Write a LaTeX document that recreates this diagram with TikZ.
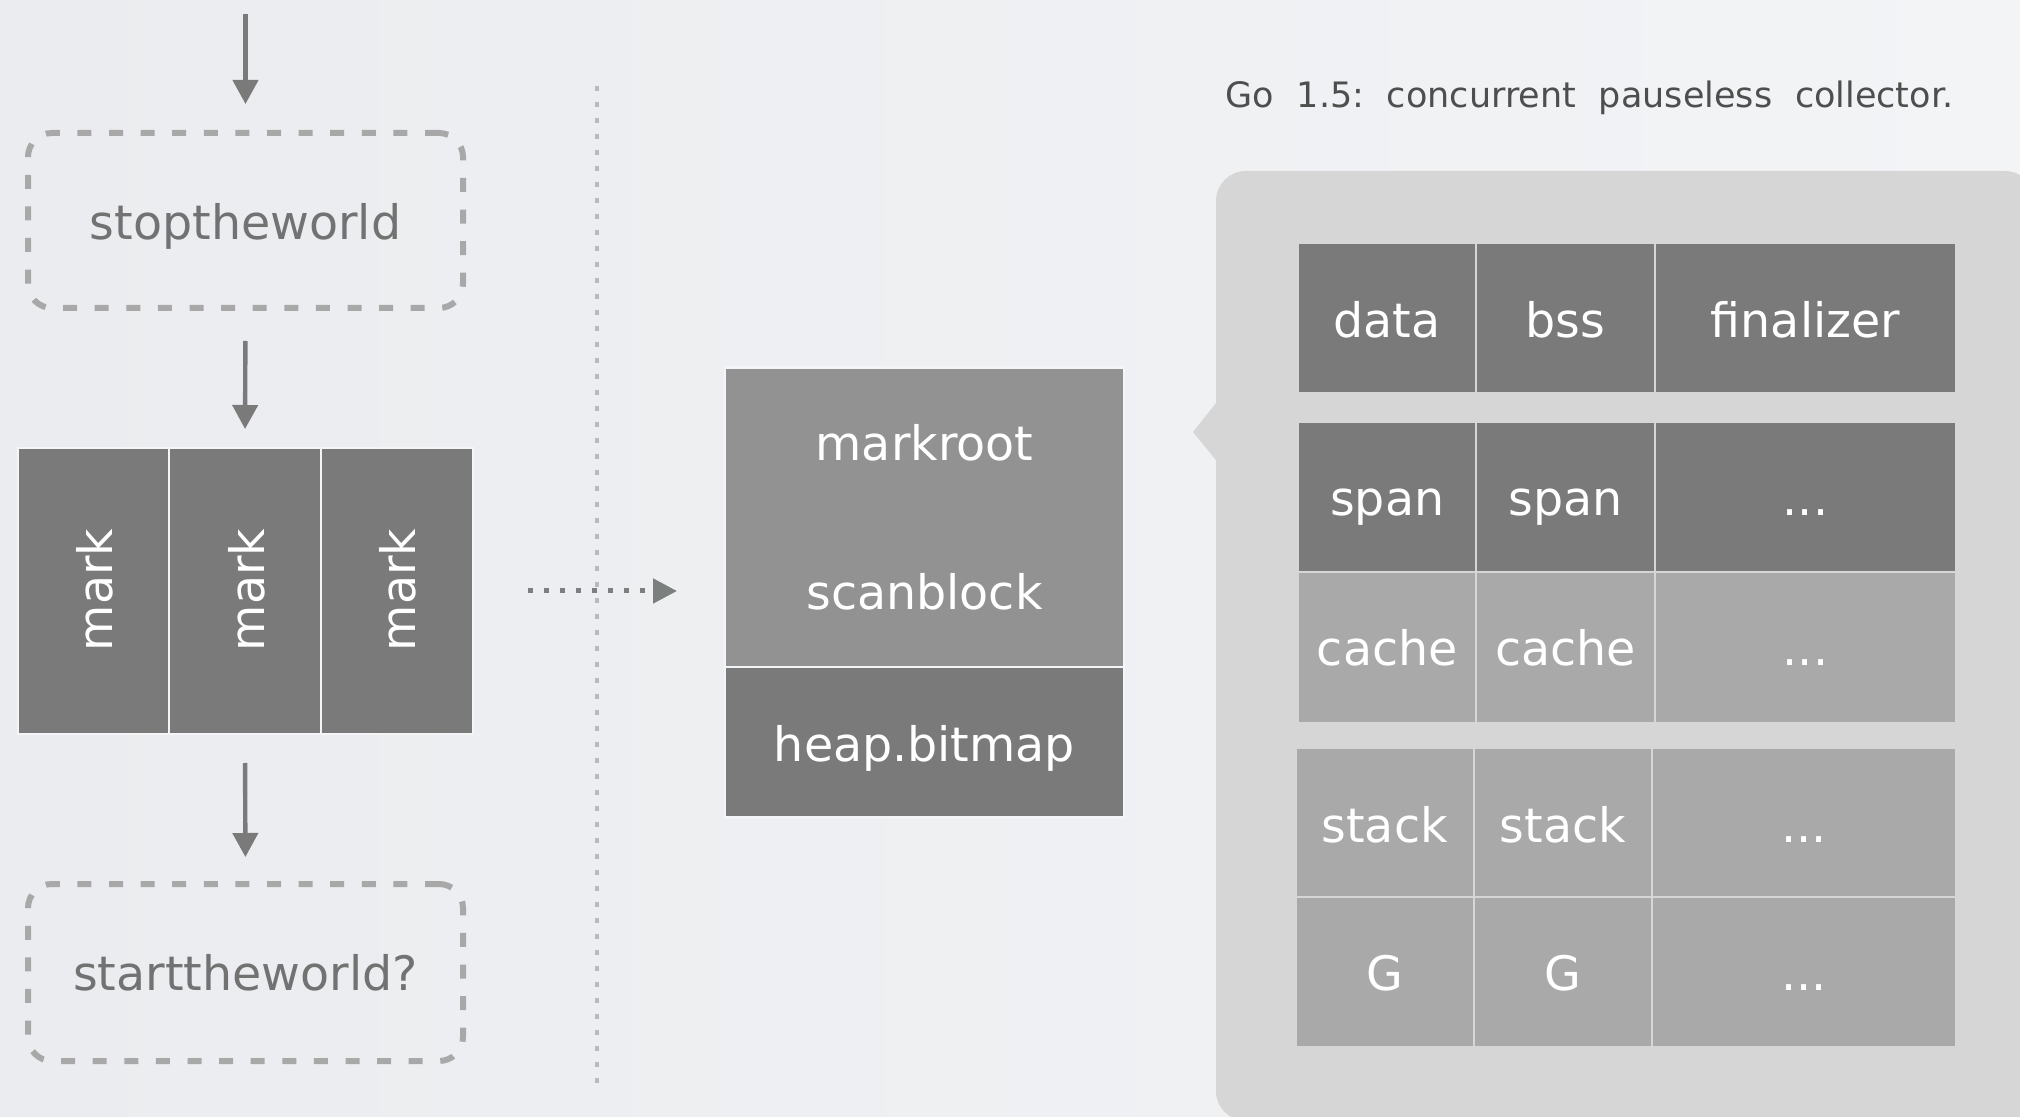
\documentclass[tikz,border=0pt]{standalone}
\usepackage{fontspec}
\setmainfont{DejaVu Sans}
\usetikzlibrary{arrows.meta,fit}
\definecolor{bgL}{RGB}{234,236,239}
\definecolor{bgR}{RGB}{243,244,246}
\definecolor{darkcell}{RGB}{122,122,122}
\definecolor{midcell}{RGB}{146,146,146}
\definecolor{lightcell}{RGB}{169,169,169}
\definecolor{panelc}{RGB}{214,214,214}
\definecolor{arrowc}{RGB}{122,122,122}
\definecolor{dashc}{RGB}{168,168,168}
\definecolor{boxtext}{RGB}{114,114,114}
\definecolor{titlec}{RGB}{78,78,78}
\definecolor{vdotc}{RGB}{186,186,186}
\definecolor{hdotc}{RGB}{123,128,127}
\definecolor{sepc}{RGB}{244,245,246}
\newcommand\gapw{\hspace{11.4pt}}
\tikzset{
  lbl/.style={font=\fontsize{23.75pt}{28pt}\selectfont, inner sep=0pt},
  celltext/.style={lbl, text=white, anchor=base},
  boxtextst/.style={lbl, text=boxtext, anchor=base},
  cellbase/.style={rectangle, inner sep=0pt, outer sep=0pt, line width=1pt},
  darkA/.style={cellbase, fill=darkcell, draw=panelc},
  lightA/.style={cellbase, fill=lightcell, draw=panelc},
  markcell/.style={cellbase, fill=darkcell, draw=sepc},
  upcell/.style={cellbase, fill=midcell, draw=sepc, line width=1.4pt},
  heapcell/.style={cellbase, fill=darkcell, draw=sepc, line width=1.4pt},
  dashbox/.style={rectangle, inner sep=0pt, outer sep=0pt, draw=dashc, line width=3pt,
    dash pattern=on 7pt off 8.8pt, rounded corners=12pt},
  arr/.style={draw=arrowc, line width=2.2pt, -{Triangle[length=12pt,width=12.5pt]}},
  vdot/.style={draw=vdotc, line width=2.4pt, dash pattern=on 2.3pt off 5.7pt},
  hdot/.style={draw=hdotc, line width=2.5pt, dash pattern=on 2.5pt off 5.5pt,
    -{Triangle[length=12pt,width=12pt]}},
}
\begin{document}
\begin{tikzpicture}[x=0.5pt,y=-0.5pt]
\useasboundingbox (0,0) rectangle (2020,1117);
\clip (0,0) rectangle (2020,1117);
\shade[left color=bgL, right color=bgR] (0,0) rectangle (2020,1117);

% left column
\node[dashbox, fit={(28,133) (463,308)}] (stop) {};
\node[boxtextst] (stopt) at ([yshift=-9.75pt]stop.center) {stoptheworld};
\node[markcell, fit={(18,448) (169,734)}] (m1) {};
\node[markcell, fit={(169,448) (321,734)}] (m2) {};
\node[markcell, fit={(321,448) (472.5,734)}] (m3) {};
\node[lbl, text=white, rotate=90, anchor=base] (m1t) at ([xshift=9.5pt,yshift=0.5pt]m1.center) {mark};
\node[lbl, text=white, rotate=90, anchor=base] (m2t) at ([xshift=9.5pt,yshift=0.5pt]m2.center) {mark};
\node[lbl, text=white, rotate=90, anchor=base] (m3t) at ([xshift=9.5pt,yshift=0.5pt]m3.center) {mark};
\node[dashbox, fit={(28,884) (463,1061)}] (start) {};
\node[boxtextst] (startt) at ([yshift=-8.75pt]start.center) {starttheworld?};

\coordinate (top0) at (245.5,14);
\draw[arr, shorten >=14.5pt] (top0) -- (stop.north);
\draw[arr, shorten <=16.5pt, shorten >=9.5pt] (stop.south) -- (m2.north);
\draw[arr, shorten <=14.5pt, shorten >=13.5pt] (m2.south) -- (start.north);

% separator
\coordinate (sepA) at (597,86);
\coordinate (sepB) at (597,1093);
\draw[vdot] (sepA) -- (sepB);

% centre block
\node[upcell, fit={(725,367.5) (1124,667)}] (cup) {};
\node[heapcell, fit={(725,667) (1124,817.5)}] (heap) {};
\node[celltext] (mr) at (924.5,461) {markroot};
\node[celltext] (sb) at (924.5,610) {scanblock};
\node[celltext] (hb) at ([yshift=-9.5pt]heap.center) {heap.bitmap};

\draw[hdot, shorten <=27.8pt, shorten >=24pt] (m3.east) -- (m3.east -| cup.west);

% title
\node[anchor=base west, inner sep=0pt, text=titlec, font=\fontsize{17.5pt}{21pt}\selectfont] (title) at (1225,107.8)
  {Go\gapw 1.5:\gapw concurrent\gapw pauseless\gapw collector.};

% panel
\fill[panelc, rounded corners=15pt] (1216,171) -- (2035,171) -- (2035,1121) -- (1216,1121) -- cycle;
\fill[panelc] (1220,398) -- (1193,432) -- (1220,465) -- cycle;

% table
\node[darkA, fit={(1298.4,243) (1476,393)}] (c11) {};
\node[darkA, fit={(1476,243) (1655,393)}] (c12) {};
\node[darkA, fit={(1655,243) (1956,393)}] (c13) {};
\node[darkA, fit={(1298.4,422) (1476,572)}] (c21) {};
\node[darkA, fit={(1476,422) (1655,572)}] (c22) {};
\node[darkA, fit={(1655,422) (1956,572)}] (c23) {};
\node[lightA, fit={(1298.4,572) (1476,722.6)}] (c31) {};
\node[lightA, fit={(1476,572) (1655,722.6)}] (c32) {};
\node[lightA, fit={(1655,572) (1956,722.6)}] (c33) {};
\node[lightA, fit={(1295.7,748) (1473.5,897.4)}] (c41) {};
\node[lightA, fit={(1473.5,748) (1652.4,897.4)}] (c42) {};
\node[lightA, fit={(1652.4,748) (1956,897.4)}] (c43) {};
\node[lightA, fit={(1295.7,897.4) (1473.5,1046.8)}] (c51) {};
\node[lightA, fit={(1473.5,897.4) (1652.4,1046.8)}] (c52) {};
\node[lightA, fit={(1652.4,897.4) (1956,1046.8)}] (c53) {};

\node[celltext] (t11) at ([yshift=-9.75pt]c11.center) {data};
\node[celltext] (t12) at ([yshift=-9.75pt]c12.center) {bss};
\node[celltext] (t13) at ([yshift=-9.75pt]c13.center) {finalizer};
\node[celltext] (t21) at ([yshift=-9.25pt]c21.center) {span};
\node[celltext] (t22) at ([yshift=-9.25pt]c22.center) {span};
\node[celltext] (t23) at ([yshift=-9.25pt]c23.center) {...};
\node[celltext] (t31) at ([yshift=-9.25pt]c31.center) {cache};
\node[celltext] (t32) at ([yshift=-9.25pt]c32.center) {cache};
\node[celltext] (t33) at ([yshift=-9.25pt]c33.center) {...};
\node[celltext] (t41) at ([yshift=-9.65pt]c41.center) {stack};
\node[celltext] (t42) at ([yshift=-9.65pt]c42.center) {stack};
\node[celltext] (t43) at ([yshift=-9.65pt]c43.center) {...};
\node[celltext] (t51) at ([yshift=-9.35pt]c51.center) {G};
\node[celltext] (t52) at ([yshift=-9.35pt]c52.center) {G};
\node[celltext] (t53) at ([yshift=-9.35pt]c53.center) {...};
\end{tikzpicture}
\end{document}
